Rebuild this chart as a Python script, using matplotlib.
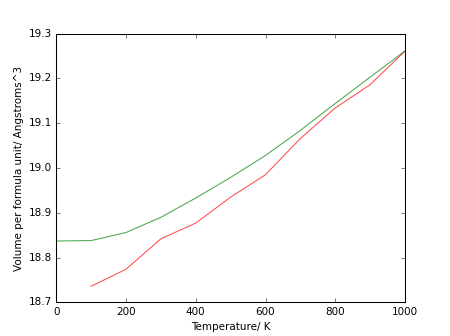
import matplotlib
matplotlib.use("Agg")
import matplotlib.pyplot as plt

plt.style.use("classic")
plt.rcParams["font.size"] = 10

temps_green = [0, 100, 200, 300, 400, 500, 600, 700, 800, 900, 1000]
vol_green = [18.837, 18.838, 18.856, 18.890, 18.933, 18.979, 19.028, 19.084, 19.144, 19.203, 19.261]

temps_red = [100, 200, 300, 400, 500, 600, 700, 800, 900, 1000]
vol_red = [18.736, 18.774, 18.842, 18.877, 18.935, 18.985, 19.066, 19.134, 19.186, 19.261]

fig = plt.figure(figsize=(6, 4.48), dpi=75)
plt.plot(temps_red, vol_red, "r-", alpha=0.7)
plt.plot(temps_green, vol_green, "g-", alpha=0.7)
plt.xlabel("Temperature/ K")
plt.ylabel("Volume per formula unit/ Angstroms^3")
plt.xlim(0, 1000)
plt.ylim(18.7, 19.3)
plt.savefig("out.png", dpi=75)
